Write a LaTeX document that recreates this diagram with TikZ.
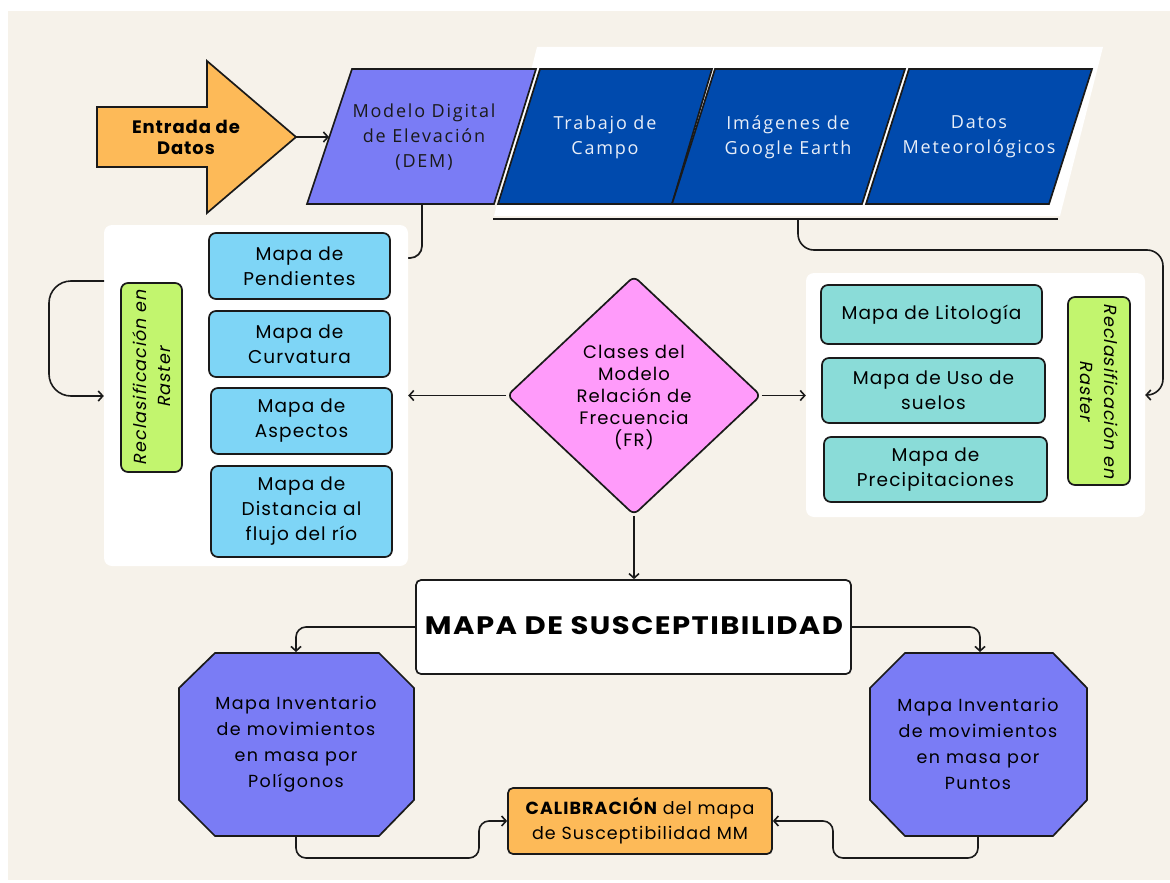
\documentclass[tikz,border=0pt]{standalone}
\usepackage{fontspec}
\usepackage{graphicx}
\usetikzlibrary{shapes.geometric,arrows.meta}
\setmainfont{Poppins}
\newfontfamily\fpop[LetterSpace=6]{Poppins}
\newfontfamily\fpopo[LetterSpace=8]{Poppins}
\newfontfamily\fpopsl[LetterSpace=6,FakeSlant=0.2]{Poppins}
\newfontfamily\fpopb[LetterSpace=5]{Poppins}
\newfontfamily\fopen[LetterSpace=10]{Open Sans}
\definecolor{bg}{HTML}{F6F2EA}
\definecolor{orng}{HTML}{FDBA58}
\definecolor{peri}{HTML}{7A7CF5}
\definecolor{navy}{HTML}{004AAD}
\definecolor{lblue}{HTML}{7ED5F6}
\definecolor{tealbx}{HTML}{8ADCD8}
\definecolor{lime}{HTML}{C2F56E}
\definecolor{pinkd}{HTML}{FF9BFA}
\definecolor{ink}{HTML}{1A1A1A}
\definecolor{wtxt}{HTML}{E8EEF8}
\tikzset{
  edge/.style={draw=ink, line width=1.7pt},
  conn/.style={draw=ink, line width=1.6pt, -{Straight Barb[length=4.5pt,width=10pt]}},
  mapbox/.style={draw=ink, line width=1.7pt, rounded corners=7pt, inner sep=0pt, align=center,
     font=\fpop\fontsize{18.5}{25}\selectfont},
  panel/.style={fill=white, rounded corners=8pt, inner sep=0pt},
  greenbx/.style={mapbox, fill=lime, font=\fpopsl\fontsize{17.5}{24}\selectfont},
  dtxt/.style={align=center, inner sep=0pt, font=\fopen\fontsize{18}{25}\selectfont},
  octtxt/.style={align=center, inner sep=0pt, font=\fpopo\fontsize{17.5}{26}\selectfont},
}
\begin{document}
\begin{tikzpicture}[x=1pt,y=-1pt]
\useasboundingbox (0,0) rectangle (1170,883);
\fill[white] (0,0) rectangle (1170,883);
\fill[bg] (8,11) rectangle (1170,880);

% ---- input arrow
\draw[edge, fill=orng, line join=miter] (97,107) -- (207,107) -- (207,61) -- (296,137) -- (207,213) -- (207,167) -- (97,167) -- cycle;
\node[align=center, inner sep=0pt, font=\fpopb\bfseries\fontsize{18}{21}\selectfont] (entrada) at (186,137) {Entrada de\\Datos};
\coordinate (arrowtip) at (296,137);

% ---- white backing of the data sources
\fill[white] (537,47) -- (1103,47) -- (1060,216) -- (494,216) -- cycle;
\draw[edge, line width=2pt] (493,219) coordinate (barL) -- (1058,219) coordinate (barR);
\coordinate (barC) at (798,219);

% ---- DEM
\draw[edge, fill=peri] (352,69) -- (536,69) -- (494,204) -- (307,204) -- cycle;
\node[dtxt, text=ink] (dem) at (424,137) {Modelo Digital\\de Elevación\\(DEM)};
\coordinate (demW) at (329,137);
\coordinate (demS) at (422,204);
\draw[conn] (arrowtip) -- (demW);

% ---- dark blue sources
\draw[edge, fill=navy] (540,69) -- (712,69) -- (672,204) -- (498,204) -- cycle;
\draw[edge, fill=navy] (715,69) -- (905,69) -- (862,204) -- (672,204) -- cycle;
\draw[edge, fill=navy] (909,69) -- (1092,69) -- (1049,204) -- (866,204) -- cycle;
\node[dtxt, text=wtxt] (campo) at (605,137) {Trabajo de\\Campo};
\node[dtxt, text=wtxt] (google) at (788,137) {Imágenes de\\Google Earth};
\node[dtxt, text=wtxt] (meteo) at (979,137) {Datos\\Meteorológicos};

% ---- DEM connector (behind panel)
\draw[edge, rounded corners=12pt] (demS) |- (404,258) coordinate (demJ);

% ---- left panel
\node[panel, minimum width=304pt, minimum height=341pt] (lpanel) at (256,395.5) {};
\node[mapbox, fill=lblue, minimum width=181pt, minimum height=66pt] (pend) at (299.5,266) {Mapa de\\Pendientes};
\node[mapbox, fill=lblue, minimum width=181pt, minimum height=66pt] (curv) at (299.5,344) {Mapa de\\Curvatura};
\node[mapbox, fill=lblue, minimum width=181pt, minimum height=66pt] (asp) at (301.5,421) {Mapa de\\Aspectos};
\node[mapbox, fill=lblue, minimum width=181pt, minimum height=91pt] (dist) at (301.5,511.5) {Mapa de\\Distancia al\\flujo del río};
\node[greenbx, rotate=90, minimum width=189pt, minimum height=61pt] (recL) at (151.5,377.5) {Reclasificación en\\Raster};
\coordinate (lloop) at (104,281);
\draw[conn, rounded corners=22pt] (lloop) -- (49,281) -- (49,396) -- (lpanel.west |- 0,396);

% ---- right panel
\node[panel, minimum width=339pt, minimum height=244pt] (rpanel) at (975.5,395) {};
\node[mapbox, fill=tealbx, minimum width=221pt, minimum height=59pt] (lito) at (931.5,314.5) {Mapa de Litología};
\node[mapbox, fill=tealbx, minimum width=223pt, minimum height=65pt] (uso) at (933.5,390.5) {Mapa de Uso de\\suelos};
\node[mapbox, fill=tealbx, minimum width=223pt, minimum height=65pt] (prec) at (935.5,469.5) {Mapa de\\Precipitaciones};
\node[greenbx, rotate=-90, minimum width=188pt, minimum height=62pt] (recR) at (1099,391) {Reclasificación en\\Raster};
\draw[conn, rounded corners=16pt] (barC) -- (798,250) -- (1163,250) -- (1163,395) -- (rpanel.east);

% ---- diamond
\node[diamond, draw=ink, line width=1.7pt, fill=pinkd, rounded corners=6pt, inner sep=0pt,
      minimum width=254pt, minimum height=239pt] (fr) at (634,395.5) {};
\node[align=center, inner sep=0pt, font=\fpop\fontsize{18}{22}\selectfont] (frtxt) at (634,398) {Clases del\\Modelo\\Relación de\\Frecuencia\\(FR)};
\draw[conn] (fr.west) -- (lpanel.east |- fr.west);
\draw[conn] (fr.east) -- (rpanel.west |- fr.east);

% ---- susceptibility map
\node[draw=ink, line width=1.7pt, fill=white, rounded corners=5pt, inner sep=0pt,
      minimum width=435pt, minimum height=94pt] (susc) at (633.5,627) {};
\node[inner sep=0pt, anchor=base] (susctxt) at (634,634) {\resizebox{418pt}{18pt}{\fpopb\bfseries MAPA DE SUSCEPTIBILIDAD}};
\draw[conn] (fr.south) -- (fr.south |- susc.north);

% ---- octagons
\draw[edge, fill=peri, line join=miter] (215,653) -- (379,653) -- (414,688) -- (414,800) -- (379,836) -- (215,836) -- (179,800) -- (179,688) -- cycle;
\draw[edge, fill=peri, line join=miter] (905,653) -- (1053,653) -- (1087,688) -- (1087,800) -- (1053,836) -- (905,836) -- (870,800) -- (870,688) -- cycle;
\node[octtxt] (octL) at (296,744) {Mapa Inventario\\de movimientos\\en masa por\\Polígonos};
\node[octtxt] (octR) at (978,744) {Mapa Inventario\\de movimientos\\en masa por\\Puntos};
\coordinate (octLn) at (296,652);
\coordinate (octRn) at (980,652);
\coordinate (octLs) at (296,836);
\coordinate (octRs) at (978,836);
\draw[conn, rounded corners=10pt] (susc.west) -| (octLn);
\draw[conn, rounded corners=10pt] (susc.east) -| (octRn);

% ---- calibration
\node[draw=ink, line width=1.7pt, fill=orng, rounded corners=5pt, inner sep=0pt, align=center,
      minimum width=264pt, minimum height=66pt, font=\fpop\fontsize{17.5}{25}\selectfont] (calib) at (640,821)
      {{\bfseries CALIBRACIÓN} del mapa\\de Susceptibilidad MM};
\draw[conn, rounded corners=10pt] (octLs) -- (296,858) -- (479,858) -- (479,821) -- (calib.west);
\draw[conn, rounded corners=10pt] (octRs) -- (978,858) -- (833,858) -- (833,821) -- (calib.east);
\end{tikzpicture}
\end{document}
